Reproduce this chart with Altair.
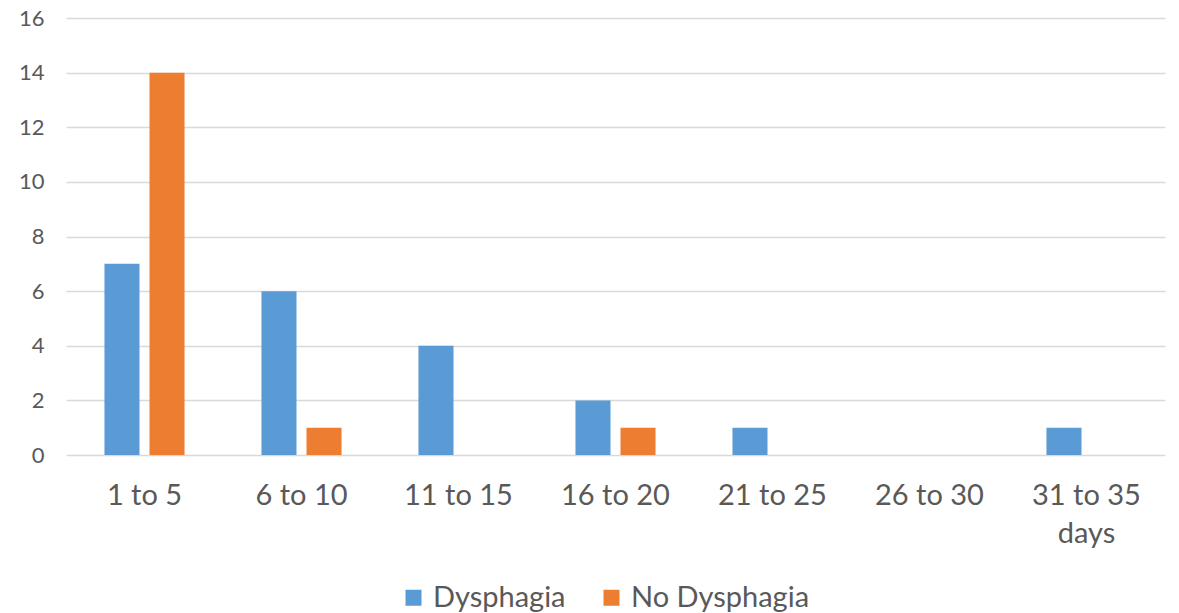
import altair as alt
import pandas as pd

categories = ["1 to 5", "6 to 10", "11 to 15", "16 to 20", "21 to 25", "26 to 30", "31 to 35 days"]
series_names = ["Dysphagia", "No Dysphagia"]
dysphagia = [7, 6, 4, 2, 1, 0, 1]
no_dysphagia = [14, 1, 0, 1, 0, 0, 0]

rows = []
for c, d, n in zip(categories, dysphagia, no_dysphagia):
    rows.append({"cat": c, "series": series_names[0], "value": d})
    rows.append({"cat": c, "series": series_names[1], "value": n})
df = pd.DataFrame(rows)

FONT = "Lato"
TXT = "#595959"

chart = alt.Chart(df).mark_bar().encode(
    x=alt.X("cat:N", sort=categories, title=None,
            scale=alt.Scale(paddingInner=0.49, paddingOuter=0.245),
            axis=alt.Axis(labelAngle=0, labelFontSize=29, labelColor=TXT, labelFont=FONT,
                          ticks=False, domain=False, labelPadding=26, labelLineHeight=38,
                          labelExpr="datum.label == '31 to 35 days' ? ['31 to 35', 'days'] : datum.label")),
    xOffset=alt.XOffset("series:N", sort=series_names,
                        scale=alt.Scale(paddingInner=0.222, paddingOuter=0)),
    y=alt.Y("value:Q", title=None,
            scale=alt.Scale(domain=[0, 16], nice=False),
            axis=alt.Axis(values=list(range(0, 17, 2)), labelFontSize=22, labelColor=TXT,
                          labelFont=FONT, ticks=False, domain=False, labelPadding=22,
                          gridColor="#D9D9D9", gridWidth=1.3)),
    color=alt.Color("series:N", sort=series_names,
                    scale=alt.Scale(domain=series_names, range=["#5B9BD5", "#ED7D31"]),
                    legend=alt.Legend(title=None, orient="none", legendX=333, legendY=565,
                                      direction="horizontal", symbolType="square",
                                      symbolSize=256, symbolStrokeWidth=0,
                                      labelFontSize=29, labelColor=TXT, labelFont=FONT,
                                      labelLimit=400, labelOffset=5, columnPadding=31)),
).properties(
    width=1099, height=437,
    autosize=alt.AutoSizeParams(type="none"),
    padding={"left": 58, "top": 10, "right": 6, "bottom": 170},
).configure_view(stroke=None)

chart.save("out.html", embed_options={"renderer": "svg", "actions": False})
